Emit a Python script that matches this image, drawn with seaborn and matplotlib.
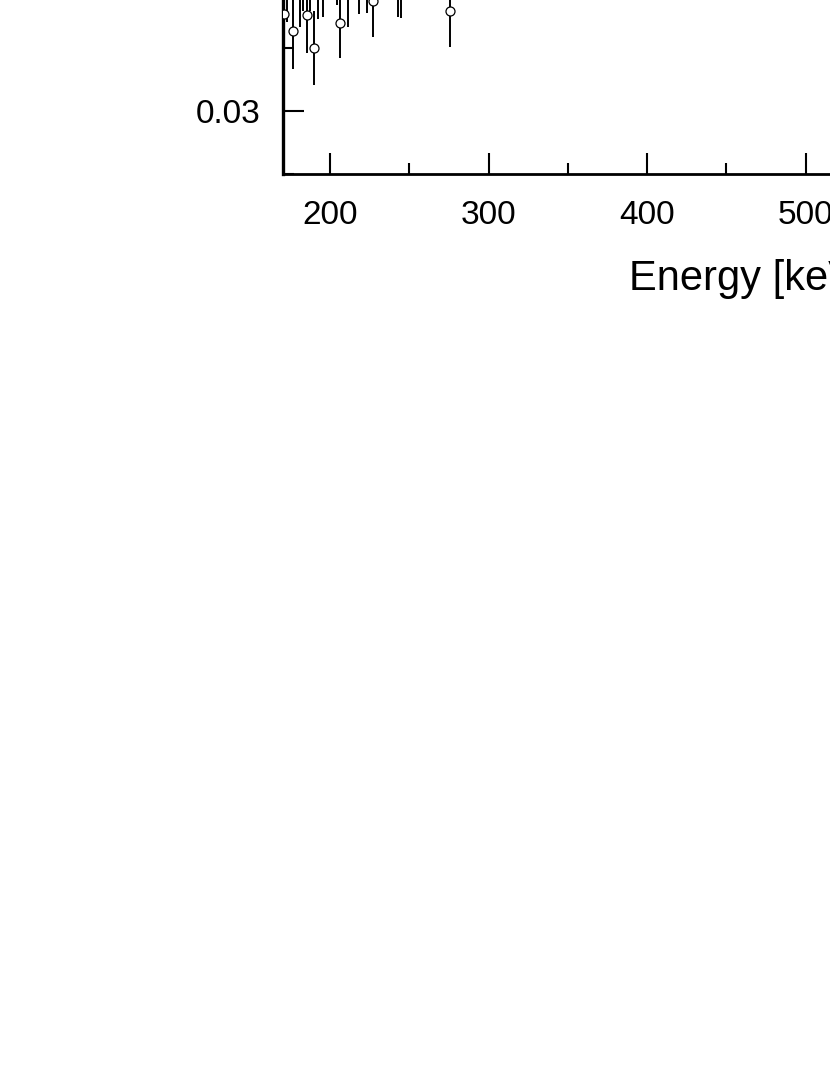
import numpy as np
import pandas as pd
import matplotlib
matplotlib.use("Agg")
import matplotlib.pyplot as plt
import seaborn as sns
from matplotlib.ticker import MultipleLocator

energy = [171.0, 172.9, 176.3, 181.1, 183.0, 185.5, 187.4, 190.1, 192.4, 195.4,
          204.2, 206.3, 211.4, 218.3, 223.2, 227.3, 243.1, 244.6, 275.4]
asym = [0.0377, 0.0400, 0.03635, 0.03956, 0.0408, 0.03762, 0.0408, 0.0350, 0.0402, 0.0404,
        0.0413, 0.0370, 0.0396, 0.0406, 0.0407, 0.0387, 0.0404, 0.0403, 0.0379]
asym_err = [0.0029, 0.0029, 0.0030, 0.0029, 0.0029, 0.0030, 0.0029, 0.0029, 0.0029, 0.0029,
            0.0029, 0.0028, 0.0029, 0.0029, 0.0029, 0.0028, 0.0029, 0.0029, 0.0028]

df = pd.DataFrame({"Energy": energy, "Asym": asym, "Err": asym_err})

sns.set_style("ticks")
plt.rcParams['font.family'] = ['Liberation Sans', 'DejaVu Sans']

fig = plt.figure(figsize=(8.3, 10.75), dpi=100)
# the axes reach past the top and right edge of the canvas
ax = fig.add_axes([283 / 830, 1 - 174 / 1075, 930 / 830, 630 / 1075])

ax.errorbar(df["Energy"], df["Asym"], yerr=df["Err"], fmt="none",
            ecolor="black", elinewidth=1.4, capsize=0, zorder=2)
sns.scatterplot(x="Energy", y="Asym", data=df, ax=ax, marker="o", s=42,
                facecolor="white", edgecolor="black", linewidth=0.9, zorder=3)

ax.set_xlim(170.3, 757)
ax.set_ylim(0.025, 0.075)
ax.xaxis.set_major_locator(MultipleLocator(100))
ax.xaxis.set_minor_locator(MultipleLocator(50))
ax.yaxis.set_major_locator(MultipleLocator(0.01))
ax.yaxis.set_minor_locator(MultipleLocator(0.005))
ax.yaxis.set_major_formatter(matplotlib.ticker.FormatStrFormatter("%.2f"))

ax.tick_params(which="both", direction="in", width=1.5, colors="black",
               labelsize=24)
ax.tick_params(which="major", length=15)
ax.tick_params(which="minor", length=8)
ax.tick_params(axis="x", which="both", pad=19)
ax.tick_params(axis="y", which="both", pad=16)

ax.spines["left"].set_linewidth(2.4)
ax.spines["bottom"].set_linewidth(2.0)
for s in ["left", "bottom"]:
    ax.spines[s].set_color("black")
sns.despine(ax=ax, top=False, right=False)

ax.set_xlabel("Energy [keV]", fontsize=30, labelpad=20, color="black")
ax.set_ylabel("")

fig.savefig("out.png", dpi=100)
